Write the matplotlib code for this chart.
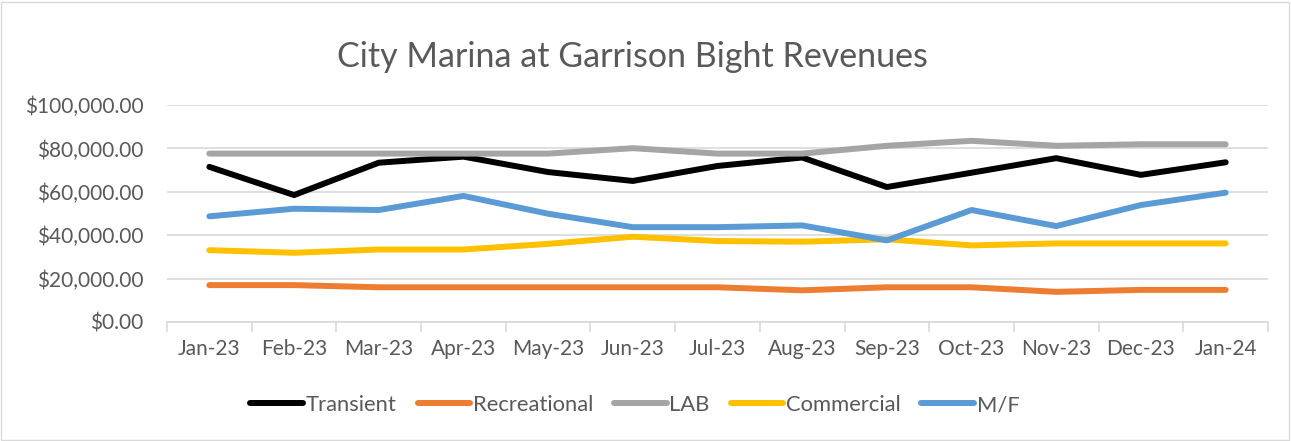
import matplotlib
matplotlib.use("Agg")
import matplotlib.pyplot as plt
from matplotlib.patches import Rectangle
from matplotlib.ticker import FuncFormatter, FixedLocator

months = ["Jan-23", "Feb-23", "Mar-23", "Apr-23", "May-23", "Jun-23", "Jul-23",
          "Aug-23", "Sep-23", "Oct-23", "Nov-23", "Dec-23", "Jan-24"]
transient = [71500, 58500, 73400, 76200, 69100, 65000, 71900, 75800, 62200, 68800, 75500, 67800, 73600]
recreational = [17000, 17000, 16000, 16000, 16000, 16000, 16000, 14600, 16000, 16000, 13900, 14800, 14800]
lab = [77600, 77600, 77600, 77600, 77600, 80100, 77600, 77600, 81200, 83500, 81200, 81900, 81900]
commercial = [33100, 31900, 33400, 33400, 36000, 39300, 37300, 37000, 38100, 35300, 36200, 36200, 36200]
mf = [48700, 52200, 51600, 58100, 49900, 43700, 43700, 44500, 37600, 51600, 44200, 53900, 59600]

series = [("Transient", transient, "#000000"),
          ("Recreational", recreational, "#ED7D31"),
          ("LAB", lab, "#A5A5A5"),
          ("Commercial", commercial, "#FFC000"),
          ("M/F", mf, "#5B9BD5")]

plt.rcParams['font.family'] = ['Lato', 'DejaVu Sans']
txt = "#595959"

fig = plt.figure(figsize=(12.91, 4.41), dpi=100)
W, H = 1291, 441
ax = fig.add_axes([167 / W, 1 - 322 / H, (1268 - 167) / W, (322 - 105) / H])

x = list(range(len(months)))
for name, vals, col in series:
    ax.plot(x, vals, color=col, lw=4.3, label=name, solid_capstyle='round',
            solid_joinstyle='round')

ax.set_xlim(-0.5, len(months) - 0.5)
ax.set_ylim(0, 100000)
ax.set_yticks(range(0, 100001, 20000))
ax.yaxis.set_major_formatter(FuncFormatter(lambda v, p: "${:,.2f}".format(v)))
ax.grid(axis='y', color='#D9D9D9', lw=1.2)
ax.set_axisbelow(True)
for s in ['left', 'right', 'top']:
    ax.spines[s].set_visible(False)
ax.spines['bottom'].set_color('#D9D9D9')
ax.spines['bottom'].set_linewidth(1.2)

ax.set_xticks(x)
ax.set_xticklabels(months)
ax.xaxis.set_minor_locator(FixedLocator([i - 0.5 for i in range(len(months) + 1)]))
ax.tick_params(axis='x', which='major', length=0, pad=12, labelsize=15, labelcolor=txt)
ax.tick_params(axis='x', which='minor', length=7, color='#D9D9D9', width=1.2)
ax.tick_params(axis='y', length=0, pad=17, labelsize=15, labelcolor=txt)

fig.text(632 / W, 1 - 57 / H, "City Marina at Garrison Bight Revenues", ha='center',
         va='center', fontsize=24.5, color=txt)

leg = fig.legend(loc='center', bbox_to_anchor=(635 / W, 1 - 405 / H), ncol=5,
                 frameon=False, fontsize=15.8, handlelength=2.4, handletextpad=0.12,
                 columnspacing=0.95, labelcolor=txt)

fig.patches.append(Rectangle((1 / W, 1 / H), 1 - 3 / W, 1 - 3 / H, transform=fig.transFigure,
                             fill=False, edgecolor='#D9D9D9', lw=1))

fig.savefig("out.png", dpi=100)
